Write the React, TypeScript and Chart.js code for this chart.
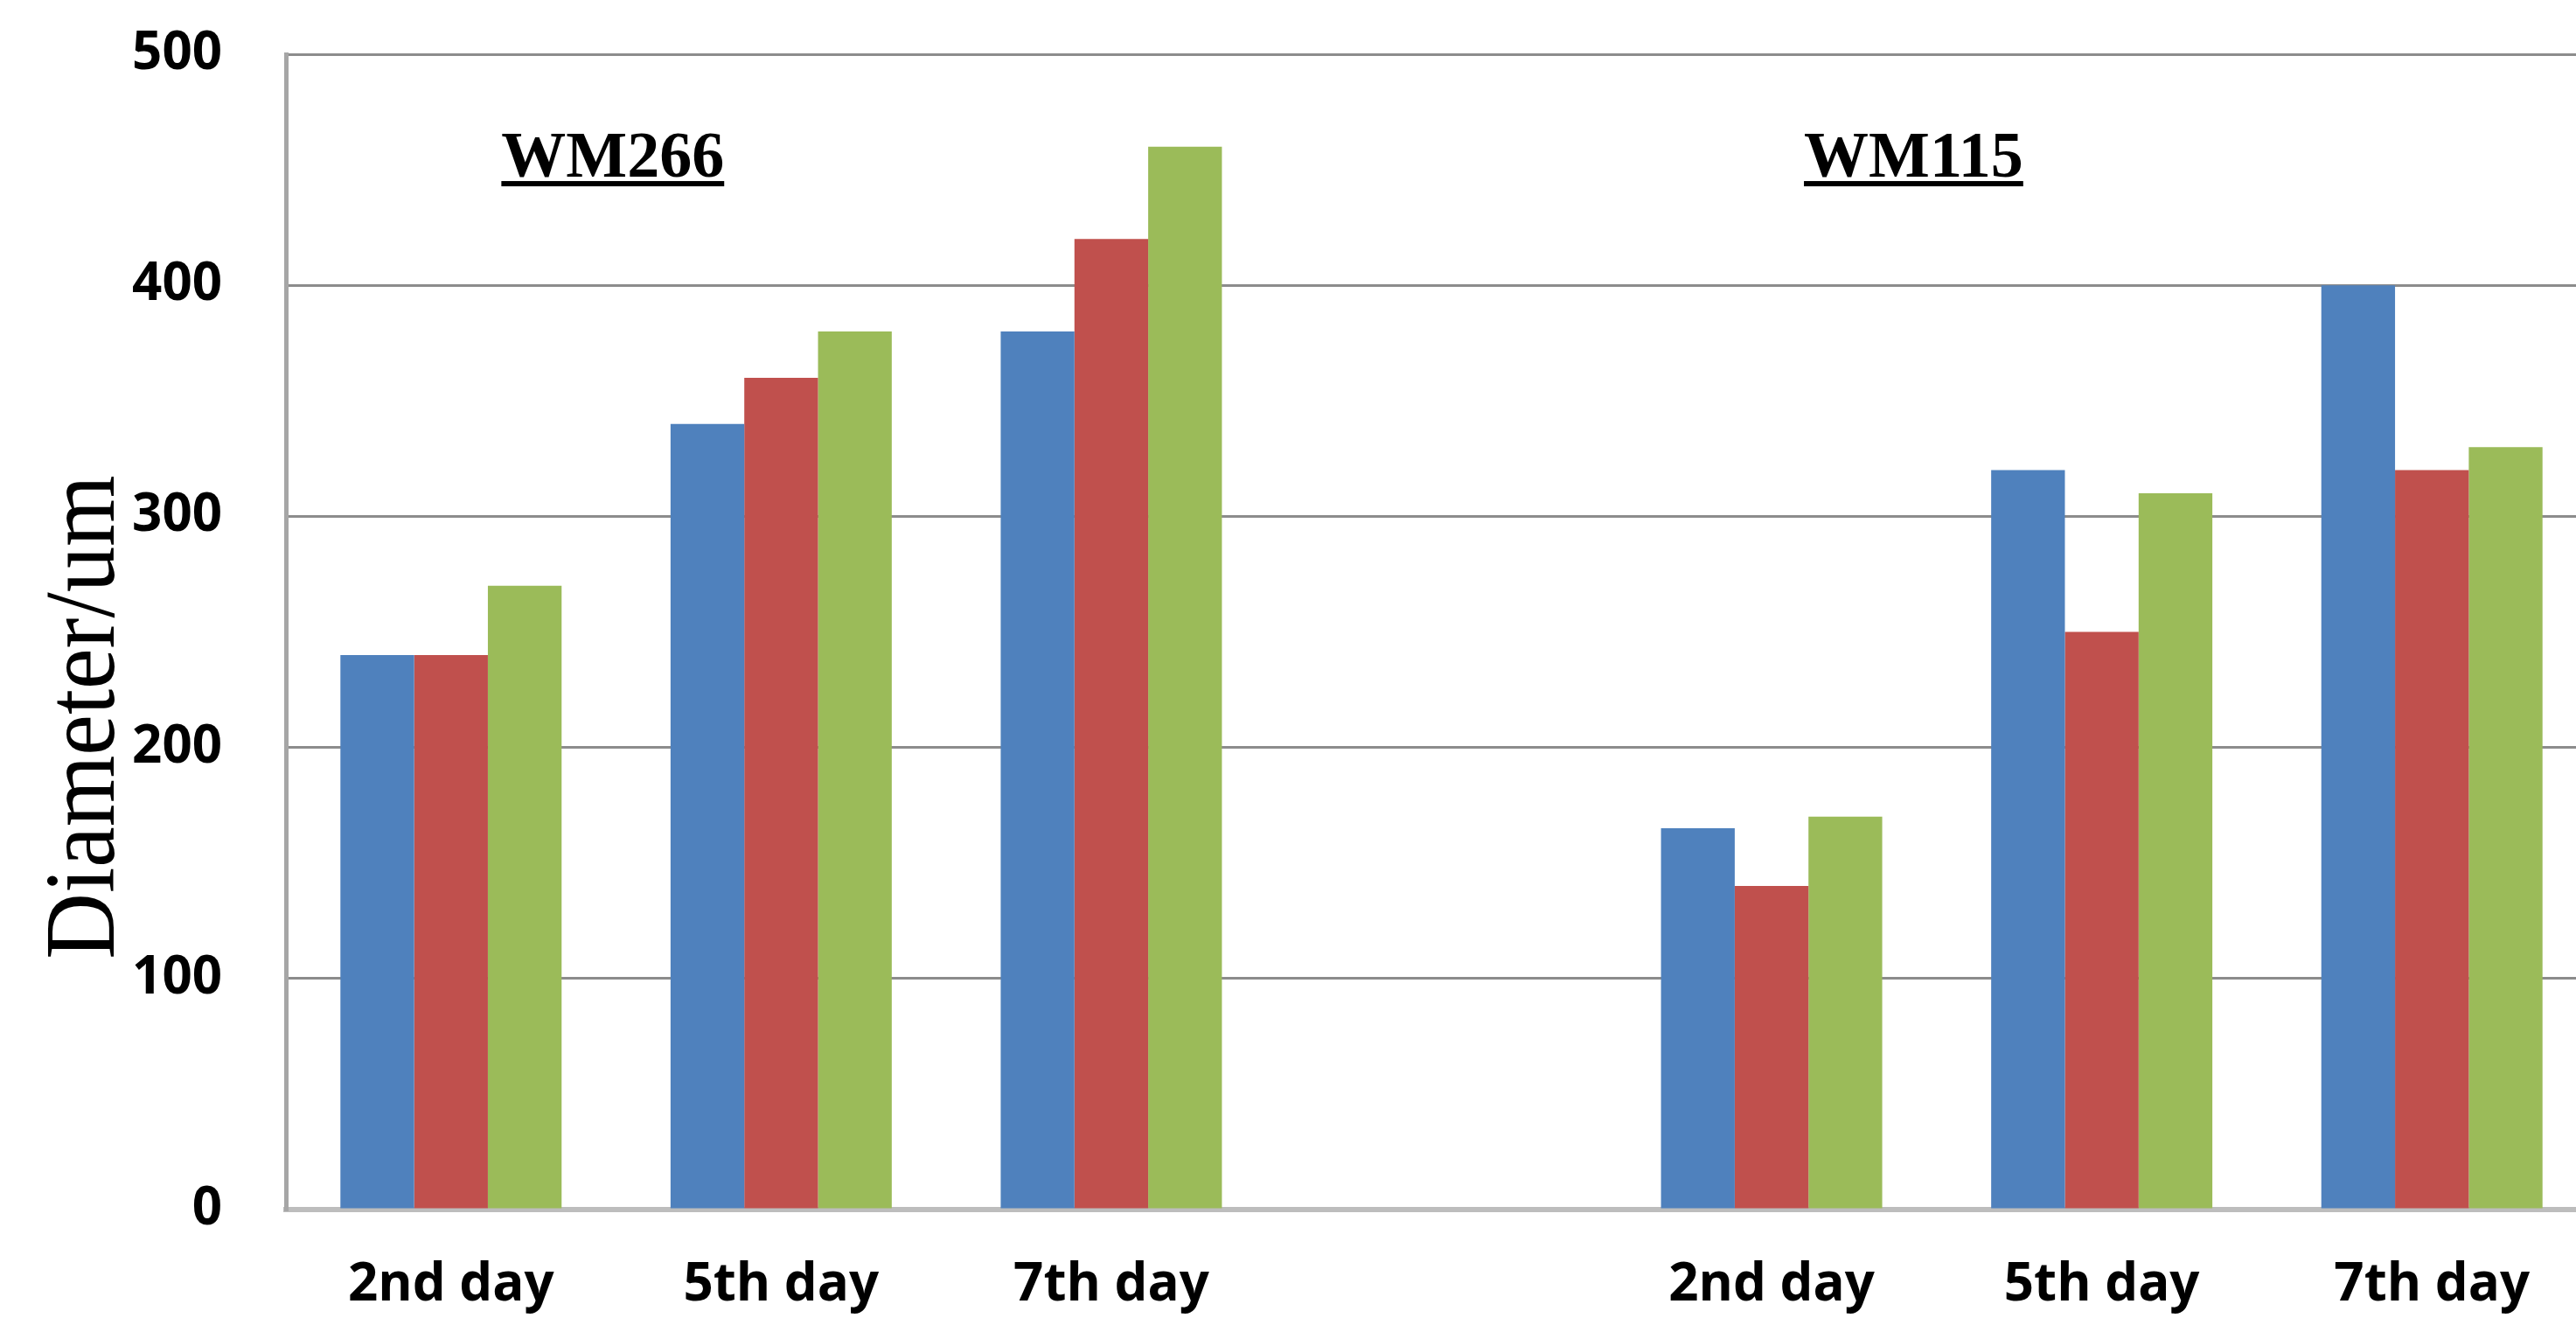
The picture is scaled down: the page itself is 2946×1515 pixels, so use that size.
import React, { useEffect, useRef } from 'react';
import { Chart, registerables } from 'chart.js';

Chart.register(...registerables);

const categories = ['2nd day', '5th day', '7th day', '', '2nd day', '5th day', '7th day'];
const series1 = [240, 340, 380, null, 165, 320, 400];
const series2 = [240, 360, 420, null, 140, 250, 320];
const series3 = [270, 380, 460, null, 170, 310, 330];
const seriesNames = ['Series 1', 'Series 2', 'Series 3'];
const seriesColors = ['#4F81BD', '#C0504D', '#9BBB59'];
const yMin = 0;
const yMax = 500;
const yStep = 100;
const groupLabels = ['WM266', 'WM115'];
const groupLabelAt = [0.49, 4.43];
const groupLabelValue = 447;
const yTitle = 'Diameter/um';

const annotations = {
  id: 'annotations',
  afterDraw(chart: any) {
    const { ctx, scales } = chart;
    const x = scales.x;
    const y = scales.y;
    ctx.save();
    ctx.fillStyle = '#000';
    ctx.font = 'bold 74px "Liberation Serif", "Times New Roman", serif';
    ctx.textAlign = 'center';
    ctx.textBaseline = 'alphabetic';
    groupLabels.forEach((t, i) => {
      const px = x.getPixelForValue(groupLabelAt[i]);
      const py = y.getPixelForValue(groupLabelValue);
      ctx.fillText(t, px, py);
      const w = ctx.measureText(t).width;
      ctx.fillRect(px - w / 2, py + 5, w, 6);
    });
    ctx.font = '114px "Liberation Serif", "Times New Roman", serif';
    ctx.translate(130, 820);
    ctx.rotate(-Math.PI / 2);
    ctx.scale(0.92, 1);
    ctx.fillText(yTitle, 0, 0);
    ctx.restore();
  },
};

export default function App() {
  const ref = useRef<HTMLCanvasElement | null>(null);

  useEffect(() => {
    if (!ref.current) return;
    const tickFont = { family: '"Open Sans", sans-serif', size: 60, weight: 'bold' as const };
    const chart = new Chart(ref.current, {
      type: 'bar',
      data: {
        labels: categories,
        datasets: [series1, series2, series3].map((d, i) => ({
          label: seriesNames[i],
          data: d,
          backgroundColor: seriesColors[i],
          borderWidth: 0,
          barPercentage: 1.0,
          categoryPercentage: 0.67,
        })),
      },
      options: {
        responsive: false,
        animation: false,
        devicePixelRatio: 1,
        layout: { padding: { left: 151, top: 62, right: 5, bottom: 9 } },
        plugins: { legend: { display: false }, tooltip: { enabled: false } },
        scales: {
          x: {
            grid: { display: false, drawTicks: false },
            border: { display: true, color: '#bdbdbd', width: 6 },
            ticks: { color: '#000', font: tickFont, padding: 51, maxRotation: 0, autoSkip: false },
            afterFit: (s: any) => {
              s.height = 123;
              s.paddingLeft = 0;
              s.paddingRight = 0;
            },
          },
          y: {
            min: yMin,
            max: yMax,
            ticks: { stepSize: yStep, color: '#000', font: tickFont, padding: 73 },
            grid: {
              drawTicks: false,
              lineWidth: 3,
              color: (c: any) => (c.tick && c.tick.value === 0 ? 'rgba(0,0,0,0)' : '#8c8c8c'),
            },
            border: { display: true, color: '#a6a6a6', width: 5 },
            afterFit: (s: any) => {
              s.width = 176;
              s.paddingTop = 0;
              s.paddingBottom = 0;
            },
          },
        },
      },
      plugins: [annotations],
    });
    return () => chart.destroy();
  }, []);

  return (
    <div style={{ position: 'fixed', left: 0, top: 0, width: 2946, height: 1515, overflow: 'hidden', background: '#fff' }}>
      <canvas ref={ref} width={2975} height={1515} style={{ display: 'block', width: 2975, height: 1515 }} />
    </div>
  );
}
